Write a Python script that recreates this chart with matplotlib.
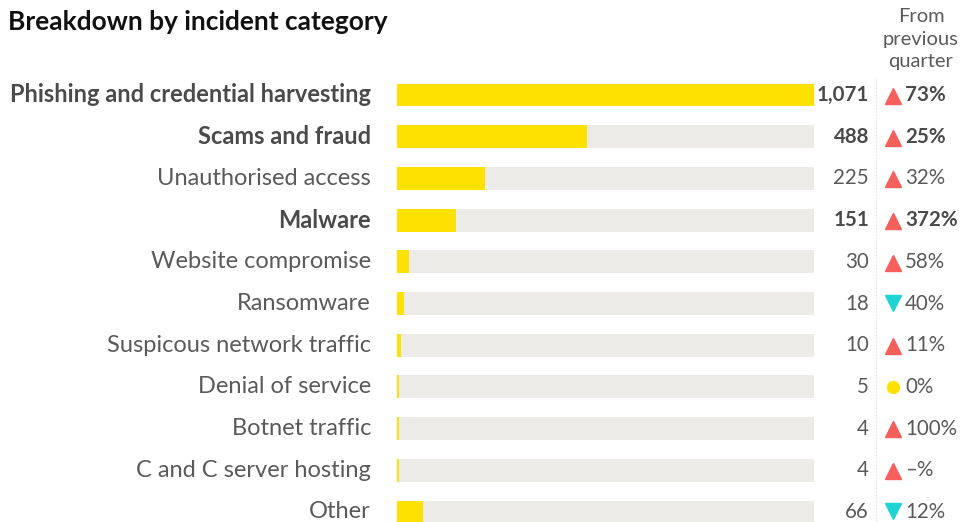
import matplotlib
matplotlib.use("Agg")
import matplotlib.pyplot as plt
import matplotlib.transforms as mtransforms

categories = [
    "Phishing and credential harvesting",
    "Scams and fraud",
    "Unauthorised access",
    "Malware",
    "Website compromise",
    "Ransomware",
    "Suspicous network traffic",
    "Denial of service",
    "Botnet traffic",
    "C and C server hosting",
    "Other",
]
counts = [1071, 488, 225, 151, 30, 18, 10, 5, 4, 4, 66]
change_labels = ["73%", "25%", "32%", "372%", "58%", "40%", "11%", "0%", "100%", "\u2013%", "12%"]
change_dir = ["up", "up", "up", "up", "up", "down", "up", "flat", "up", "up", "down"]
highlight = [True, True, False, True, False, False, False, False, False, False, False]

YELLOW = "#FFE100"
TRACK = "#ECEBE7"
RED = "#F5605C"
CYAN = "#1ED4D4"
TEXT = "#5a5a5a"
BOLD_TEXT = "#4a4a4a"
TITLE = "#111111"

plt.rcParams["font.family"] = ["Lato", "DejaVu Sans"]

W, H, DPI = 960, 522, 100
fig = plt.figure(figsize=(W / DPI, H / DPI), dpi=DPI)
fig.patch.set_facecolor("white")

# bar panel placed in pixel terms
x0, x1 = 397, 814
row0, step = 95, 41.7
top_px = row0 - step / 2
ax = fig.add_axes([x0 / W, 0, (x1 - x0) / W, 1 - top_px / H])
n = len(categories)
ax.set_xlim(0, max(counts))
ax.set_ylim((H - row0) / step, -0.5)
ax.axis("off")

ys = list(range(n))
ax.barh(ys, [max(counts)] * n, height=0.55, color=TRACK, linewidth=0)
ax.barh(ys, counts, height=0.55, color=YELLOW, linewidth=0)

blend = mtransforms.blended_transform_factory(fig.transFigure, ax.transData)
FS_CAT = 17
FS_NUM = 14.8

for i, (cat, c, lab, d, hl) in enumerate(zip(categories, counts, change_labels, change_dir, highlight)):
    w = "bold" if hl else "normal"
    col = BOLD_TEXT if hl else TEXT
    ax.text(371 / W, i, cat, transform=blend, ha="right", va="center",
            fontsize=FS_CAT, fontweight=w, color=col)
    ax.text(869 / W, i, f"{c:,}", transform=blend, ha="right", va="center",
            fontsize=FS_NUM, fontweight=w, color=col)
    if d == "up":
        ax.plot([893 / W], [i + 0.02], marker="^", markersize=11, color=RED,
                transform=blend, clip_on=False, linestyle="none")
    elif d == "down":
        ax.plot([893 / W], [i - 0.02], marker="v", markersize=11, color=CYAN,
                transform=blend, clip_on=False, linestyle="none")
    else:
        ax.plot([893 / W], [i], marker="o", markersize=8.5, color=YELLOW,
                transform=blend, clip_on=False, linestyle="none")
    ax.text(905 / W, i, lab, transform=blend, ha="left", va="center",
            fontsize=FS_NUM, fontweight=w, color=col)

# dotted separator between counts and changes
fig.add_artist(plt.Line2D([876 / W, 876 / W], [0, 1 - 78 / H], transform=fig.transFigure,
                          color="#d8d8d8", linewidth=0.8, linestyle=(0, (1, 2))))

fig.text(8 / W, 1 - 22 / H, "Breakdown by incident category", ha="left", va="center",
         fontsize=18.9, fontweight="bold", color=TITLE)
for k, line in enumerate(["From", "previous", "quarter"]):
    fig.text(921 / W, 1 - (17 + 22 * k) / H, line, ha="center", va="center",
             fontsize=14.5, fontweight="normal", color=TEXT)

fig.savefig("out.png", dpi=DPI, facecolor="white")
